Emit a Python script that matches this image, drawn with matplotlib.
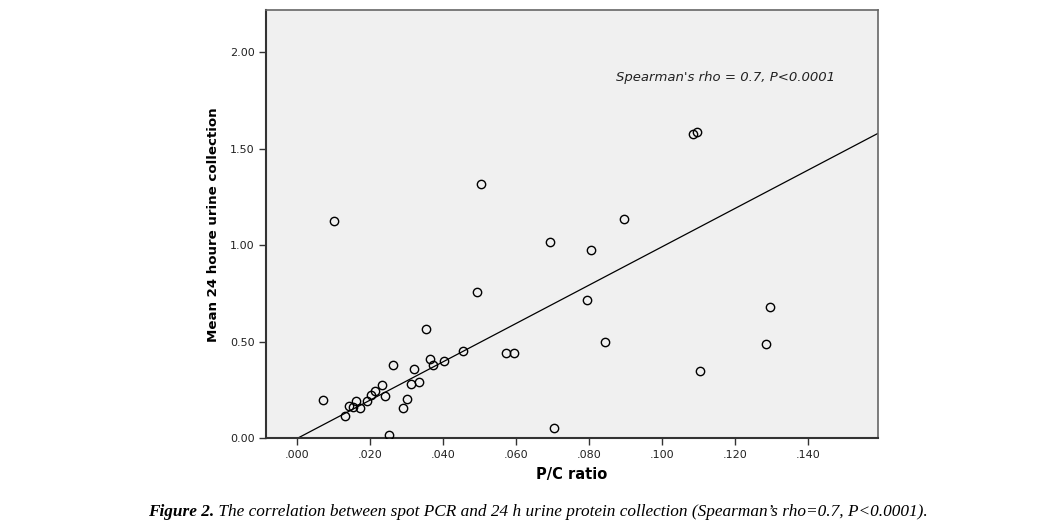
import matplotlib.pyplot as plt
import numpy as np

# P/C ratio vs mean 24 h urine protein
pc_ratio = [0.0072, 0.0101, 0.0132, 0.0141, 0.0153, 0.0162, 0.0173, 0.0191,
            0.0202, 0.0212, 0.0232, 0.0241, 0.0252, 0.0262, 0.0291, 0.0301,
            0.0312, 0.0321, 0.0333, 0.0352, 0.0363, 0.0372, 0.0402, 0.0453,
            0.0492, 0.0503, 0.0573, 0.0594, 0.0693, 0.0703, 0.0794, 0.0805,
            0.0844, 0.0894, 0.1084, 0.1095, 0.1104, 0.1285, 0.1296]
urine_24h = [0.200, 1.128, 0.114, 0.167, 0.164, 0.196, 0.157, 0.195,
             0.224, 0.246, 0.277, 0.222, 0.019, 0.379, 0.160, 0.205,
             0.283, 0.360, 0.295, 0.565, 0.410, 0.379, 0.400, 0.455,
             0.760, 1.316, 0.444, 0.441, 1.016, 0.053, 0.720, 0.978,
             0.501, 1.139, 1.578, 1.587, 0.350, 0.491, 0.681]

# fit line end points
fit_x = [0.0, 0.159]
fit_y = [0.0, 1.58]

x_ticks = [0.0, 0.02, 0.04, 0.06, 0.08, 0.10, 0.12, 0.14]
x_labels = ['.000', '.020', '.040', '.060', '.080', '.100', '.120', '.140']
y_ticks = [0.0, 0.5, 1.0, 1.5, 2.0]
y_labels = ['0.00', '0.50', '1.00', '1.50', '2.00']

fig = plt.figure(figsize=(10.6, 5.25), dpi=100)
ax = fig.add_axes([0.251, 0.1648, 0.577, 0.8162])
ax.set_facecolor('#f0f0f0')

ax.plot(fit_x, fit_y, color='black', linewidth=0.9, zorder=2)
ax.plot(pc_ratio, urine_24h, linestyle='none', marker='o', markersize=6,
        markerfacecolor='none', markeredgecolor='black', markeredgewidth=1.0, zorder=3)

ax.set_xlim(-0.0085, 0.159)
ax.set_ylim(0, 2.22)
ax.set_xticks(x_ticks)
ax.set_xticklabels(x_labels)
ax.set_yticks(y_ticks)
ax.set_yticklabels(y_labels)
ax.tick_params(axis='both', direction='out', length=5, width=1, colors='#333333',
               labelsize=8, labelcolor='#222222', pad=3)

for side in ['top', 'right']:
    ax.spines[side].set_color('#666666')
    ax.spines[side].set_linewidth(1.2)
for side in ['left', 'bottom']:
    ax.spines[side].set_color('#333333')
    ax.spines[side].set_linewidth(1.5)

ax.set_xlabel('P/C ratio', fontsize=10.5, fontweight='bold', labelpad=5)
ax.set_ylabel('Mean 24 houre urine collection', fontsize=9.6, fontweight='bold', labelpad=7)

ax.text(0.0872, 1.85, "Spearman's rho = 0.7, P<0.0001", fontsize=9.5,
        style='italic', color='#222222')

# caption below the chart
cap1 = fig.text(148 / 1060, 1 - 516 / 525, 'Figure 2.', family='Liberation Serif',
                fontsize=12.4, style='italic', fontweight='bold')
fig.canvas.draw()
ax.annotate(' The correlation between spot PCR and 24 h urine protein collection '
            '(Spearman\u2019s rho=0.7, P<0.0001).',
            xy=(1, 0), xycoords=cap1, va='bottom', ha='left',
            family='Liberation Serif', fontsize=12.4, style='italic',
            annotation_clip=False)

fig.savefig('out.png', dpi=100)
